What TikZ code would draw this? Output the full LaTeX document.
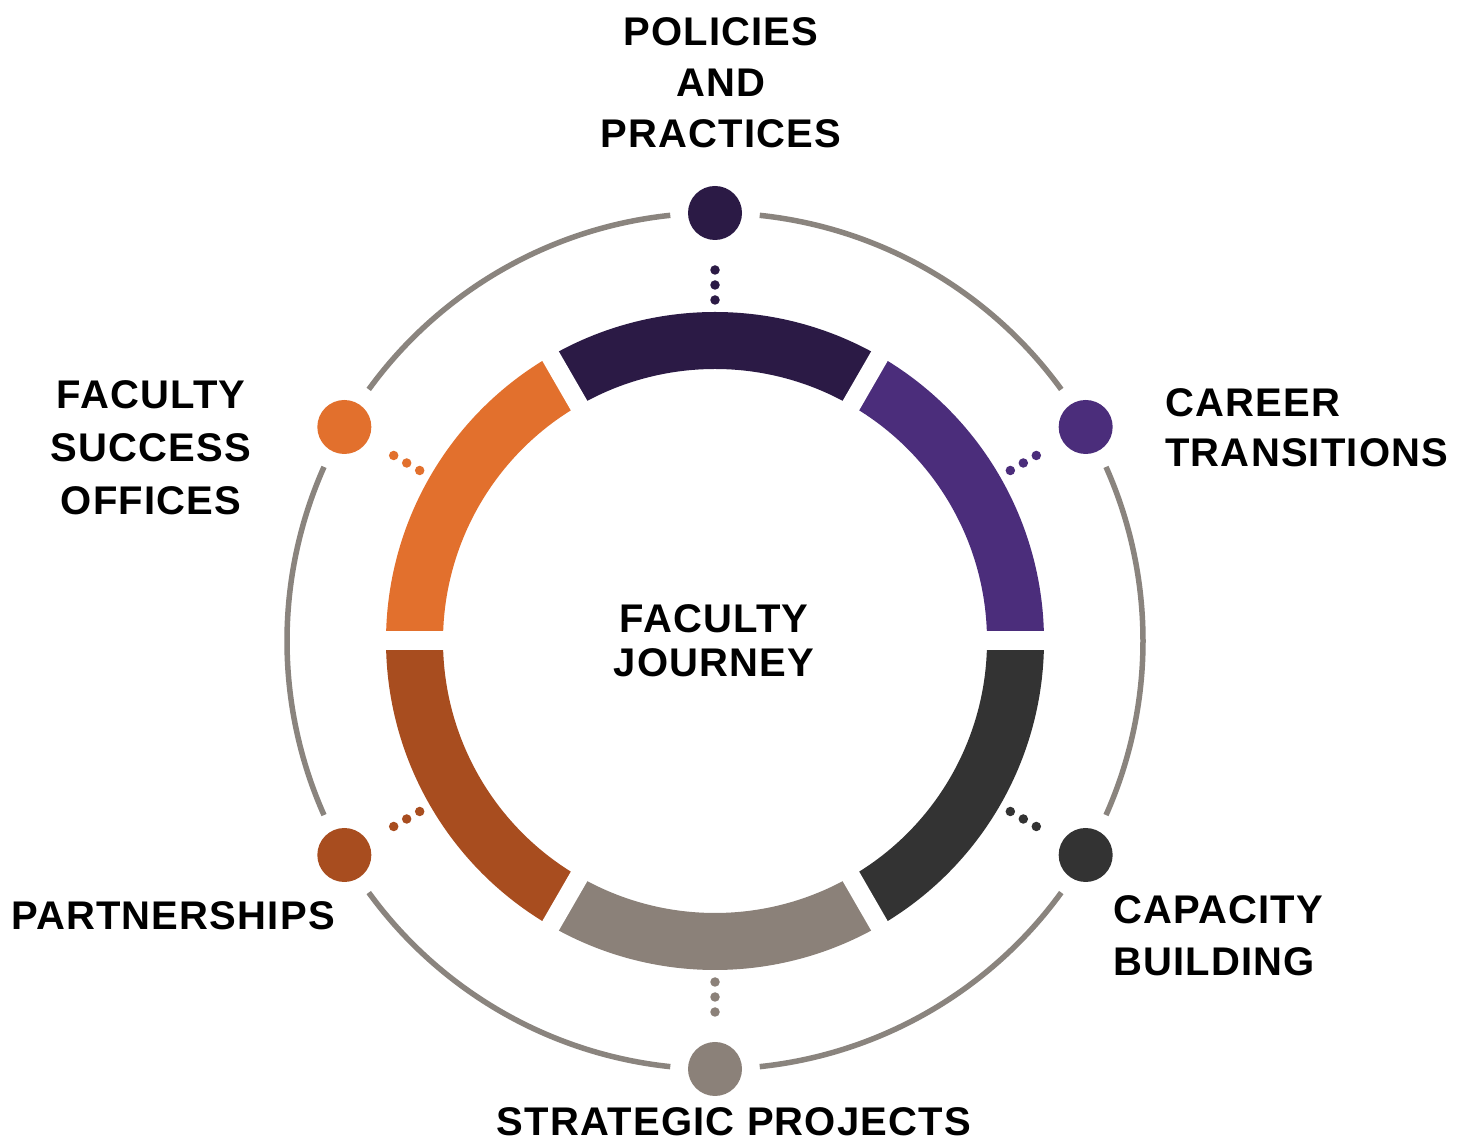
\documentclass[tikz,border=0pt]{standalone}
\usepackage{fontspec}
\setmainfont{Liberation Sans}[LetterSpace=3]
\definecolor{cTop}{HTML}{2B1A45}
\definecolor{cPurple}{HTML}{4B2D7B}
\definecolor{cOrange}{HTML}{E2702D}
\definecolor{cBrown}{HTML}{A84D1F}
\definecolor{cLight}{HTML}{8B8179}
\definecolor{cDark}{HTML}{333333}
\definecolor{cRing}{HTML}{8A847E}
\tikzset{
  lbl/.style={inner sep=0pt, font=\fontsize{40}{51}\selectfont\bfseries, text=black},
  bigdot/.style={circle, inner sep=0pt, minimum size=54pt},
  dotline/.style={line width=9.5pt, line cap=round, dash pattern=on 0pt off 15pt},
  ringarc/.style={draw=cRing, line width=5.5pt},
}
\begin{document}
\begin{tikzpicture}[x=1pt,y=1pt]
\fill[white] (0,0) rectangle (1463,1147);
\useasboundingbox (0,0) rectangle (1463,1147);
\begin{scope}[shift={(715,506)}]
  % outer ring arcs
  \foreach \a in {30,90,150,210,270,330}{
    \draw[ringarc] (\a+6:428) arc[start angle=\a+6, end angle=\a+54, radius=428];
  }
  % segments
  \foreach \a/\c in {0/cPurple,60/cTop,120/cOrange,180/cBrown,240/cLight,300/cDark}{
    \fill[\c] (\a:329) arc[start angle=\a, end angle=\a+60, radius=329]
      -- (\a+60:272) arc[start angle=\a+60, end angle=\a, radius=272] -- cycle;
  }
  \foreach \a in {0,60,120,180,240,300}{
    \draw[white, line width=19pt] (\a:262) -- (\a:340);
  }
  % dots and connectors
  \foreach \a/\c/\n in {90/cTop/pp,30/cPurple/ct,330/cDark/cb,270/cLight/sp,210/cBrown/pa,150/cOrange/fs}{
    \node[bigdot, fill=\c] (d\n) at (\a:428) {};
    \coordinate (s\n) at (\a:341);
    \coordinate (e\n) at (\a:371.5);
    \draw[dotline, \c] (s\n) -- (e\n);
  }
\end{scope}
% labels
\node[lbl, align=center, anchor=north] (tpp) at (721,1130) {POLICIES\\AND\\PRACTICES};
\node[lbl, align=left, anchor=north west, font=\fontsize{40}{50}\selectfont\bfseries] (tct) at (1165,759) {CAREER\\TRANSITIONS};
\node[lbl, align=center, anchor=north, font=\fontsize{40}{53}\selectfont\bfseries] (tfs) at (151,767) {FACULTY\\SUCCESS\\OFFICES};
\node[lbl, align=center, anchor=north, font=\fontsize{40}{44}\selectfont\bfseries] (tfj) at (714,543) {FACULTY\\JOURNEY};
\node[lbl, anchor=base] (tpa) at (173,217) {PARTNERSHIPS};
\node[lbl, align=left, anchor=north west, font=\fontsize{40}{52}\selectfont\bfseries] (tcb) at (1113,252) {CAPACITY\\BUILDING};
\node[lbl, anchor=base] (tsp) at (734,11) {STRATEGIC PROJECTS};
\end{tikzpicture}
\end{document}
